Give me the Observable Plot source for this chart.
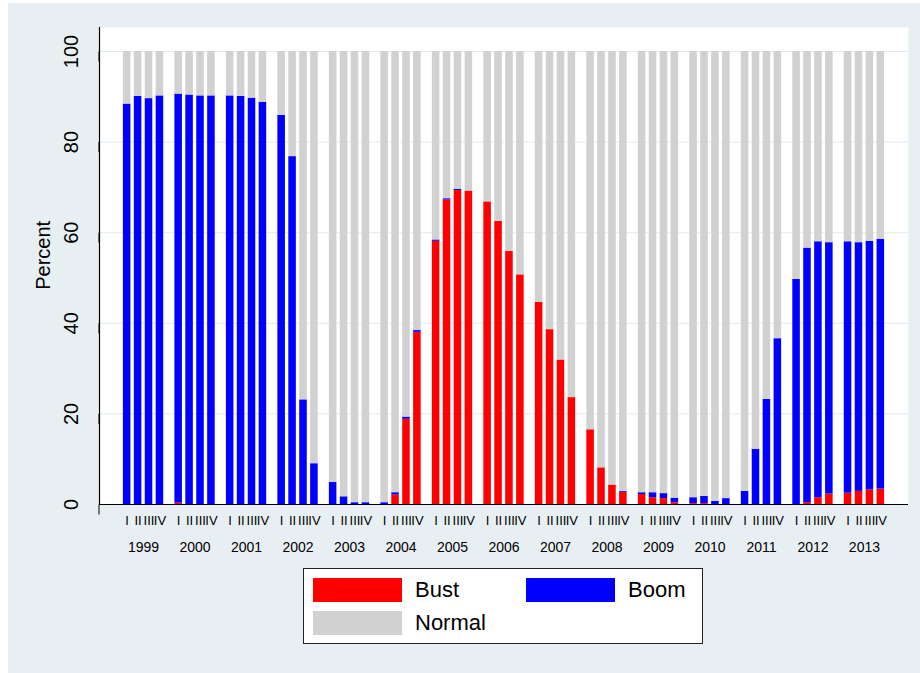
<!DOCTYPE html>
<html>
<head>
<meta charset="utf-8">
<script src="https://cdn.jsdelivr.net/npm/d3@7"></script>
<script src="https://cdn.jsdelivr.net/npm/@observablehq/plot@0.6"></script>
<style>
  html, body { margin: 0; padding: 0; background: #ffffff; }
  body { font-family: "Liberation Sans", Arial, Helvetica, sans-serif; width: 920px; height: 673px; position: relative; overflow: hidden; }
  #graph { position: absolute; left: 8px; top: 3px; width: 912px; height: 670px; background: #e8eff2; }
  .layer { position: absolute; left: 0; top: 0; }
  #legend { position: absolute; left: 303px; top: 568px; width: 400px; height: 76px; box-sizing: border-box; border: 1px solid #222; background: #fff; }
  .sw { position: absolute; width: 89px; height: 24px; }
  .lt { position: absolute; font-size: 22px; line-height: 24px; color: #000; }
</style>
</head>
<body>
<div id="graph"></div>
<div id="layers"></div>
<div id="legend"></div>
<script>
// ---- data ----
const years = ["1999","2000","2001","2002","2003","2004","2005","2006","2007","2008","2009","2010","2011","2012","2013"];
const quarters = ["I","II","III","IV"];
const series = ["Bust","Boom","Normal"];
const colors = ["#ff0000","#0000ff","#d1d1d1"];
const yTicks = [0,20,40,60,80,100];
const yTitle = "Percent";

const bust = [
  0,0,0,0,
  0.3,0,0,0,
  0,0,0,0,
  0,0,0,0,
  0,0,0,0,
  0,2.1,18.8,38.0,
  58.1,67.2,69.3,69.2,
  66.8,62.5,55.9,50.7,
  44.6,38.6,31.9,23.6,
  16.5,8.1,4.3,2.7,
  2.2,1.5,1.3,0.4,
  0.2,0.2,0,0,
  0,0,0,0,
  0,0.4,1.5,2.3,
  2.5,2.9,3.2,3.4
];
const boom = [
  88.4,90.1,89.6,90.2,
  90.3,90.4,90.2,90.2,
  90.2,90.1,89.7,88.8,
  85.9,76.8,23.1,9.0,
  4.9,1.7,0.4,0.4,
  0.4,0.5,0.5,0.4,
  0.3,0.3,0.3,0,
  0,0,0,0,
  0,0,0,0,
  0,0,0,0.2,
  0.4,1.1,1.1,1.0,
  1.3,1.6,0.7,1.3,
  2.9,12.2,23.2,36.6,
  49.7,56.2,56.5,55.5,
  55.5,54.9,54.9,55.1
];
const normal = [
  11.6,9.9,10.4,9.8,
  9.4,9.6,9.8,9.8,
  9.8,9.9,10.3,11.2,
  14.1,23.2,76.9,91.0,
  95.1,98.3,99.6,99.6,
  99.6,97.4,80.7,61.6,
  41.6,32.5,30.4,30.8,
  33.2,37.5,44.1,49.3,
  55.4,61.4,68.1,76.4,
  83.5,91.9,95.7,97.1,
  97.4,97.4,97.6,98.6,
  98.5,98.2,99.3,98.7,
  97.1,87.8,76.8,63.4,
  50.3,43.4,42.0,42.2,
  42.0,42.2,41.9,41.5
];

// ---- table ----
const values = {Bust: bust, Boom: boom, Normal: normal};
const table = [];
years.forEach((yr, i) => quarters.forEach((q, j) => {
  const k = i * 4 + j;
  series.forEach(s => table.push({year: yr, quarter: q, series: s, value: values[s][k]}));
}));

const FONT = '"Liberation Sans", Arial, Helvetica, sans-serif';
const yMax = 105.3;
const common = {
  width: 920, height: 560,
  marginLeft: 99, marginRight: 12, marginTop: 27, marginBottom: 56,
  style: {background: "transparent", fontFamily: FONT, color: "#000", overflow: "visible"}
};

// background: white plot region + faint grid
const bg = Plot.plot({
  ...common,
  x: {domain: [0, 1], axis: null},
  y: {domain: [0, yMax], axis: null},
  marks: [
    Plot.frame({fill: "#ffffff", stroke: "none"}),
    Plot.gridY(yTicks, {stroke: "#e3ebee", strokeOpacity: 1, strokeWidth: 1})
  ]
});

// bars
const bars = Plot.plot({
  ...common,
  fx: {domain: years, paddingInner: 0.217, paddingOuter: 0.464, round: false, label: null},
  x: {domain: quarters, paddingInner: 0.31, paddingOuter: 0, round: false, label: null},
  y: {domain: [0, yMax], axis: null},
  color: {domain: series, range: colors},
  marks: [
    Plot.barY(table, {fx: "year", x: "quarter", y: "value", fill: "series"}),
    Plot.axisX({tickSize: 0, tickPadding: 11, fontSize: 13, fill: "#000", label: null}),
    Plot.axisFx({anchor: "bottom", tickSize: 0, tickPadding: 38, fontSize: 14, fill: "#000", label: null})
  ]
});

// axes on top
const axes = Plot.plot({
  ...common,
  x: {domain: [0, 1], axis: null},
  y: {domain: [0, yMax], axis: null},
  marks: [
    Plot.ruleY([0], {stroke: "#000", strokeWidth: 1.2}),
    Plot.ruleX([0], {stroke: "#000", strokeWidth: 1.2}),
    Plot.axisY(yTicks, {tickSize: 10, tickPadding: 18, fontSize: 20, fill: "#000", rotate: -90, textAnchor: "middle", lineAnchor: "middle", label: null}),
    Plot.text([yTitle], {x: () => 0, y: () => 55, text: d => d, dx: -56, rotate: -90, fontSize: 20, fill: "#000"})
  ]
});

const layers = document.getElementById("layers");
[bg, bars, axes].forEach(s => { s.classList.add("layer"); layers.appendChild(s); });

// legend
const legend = document.getElementById("legend");
const items = [
  {label: "Bust", color: colors[0], sx: 9, sy: 9, tx: 111},
  {label: "Boom", color: colors[1], sx: 222, sy: 9, tx: 324},
  {label: "Normal", color: colors[2], sx: 9, sy: 42, tx: 111}
];
items.forEach(it => {
  const sw = document.createElement("div");
  sw.className = "sw";
  sw.style.left = it.sx + "px"; sw.style.top = it.sy + "px"; sw.style.background = it.color;
  legend.appendChild(sw);
  const t = document.createElement("div");
  t.className = "lt";
  t.style.left = it.tx + "px"; t.style.top = it.sy + "px";
  t.textContent = it.label;
  legend.appendChild(t);
});
</script>
</body>
</html>
